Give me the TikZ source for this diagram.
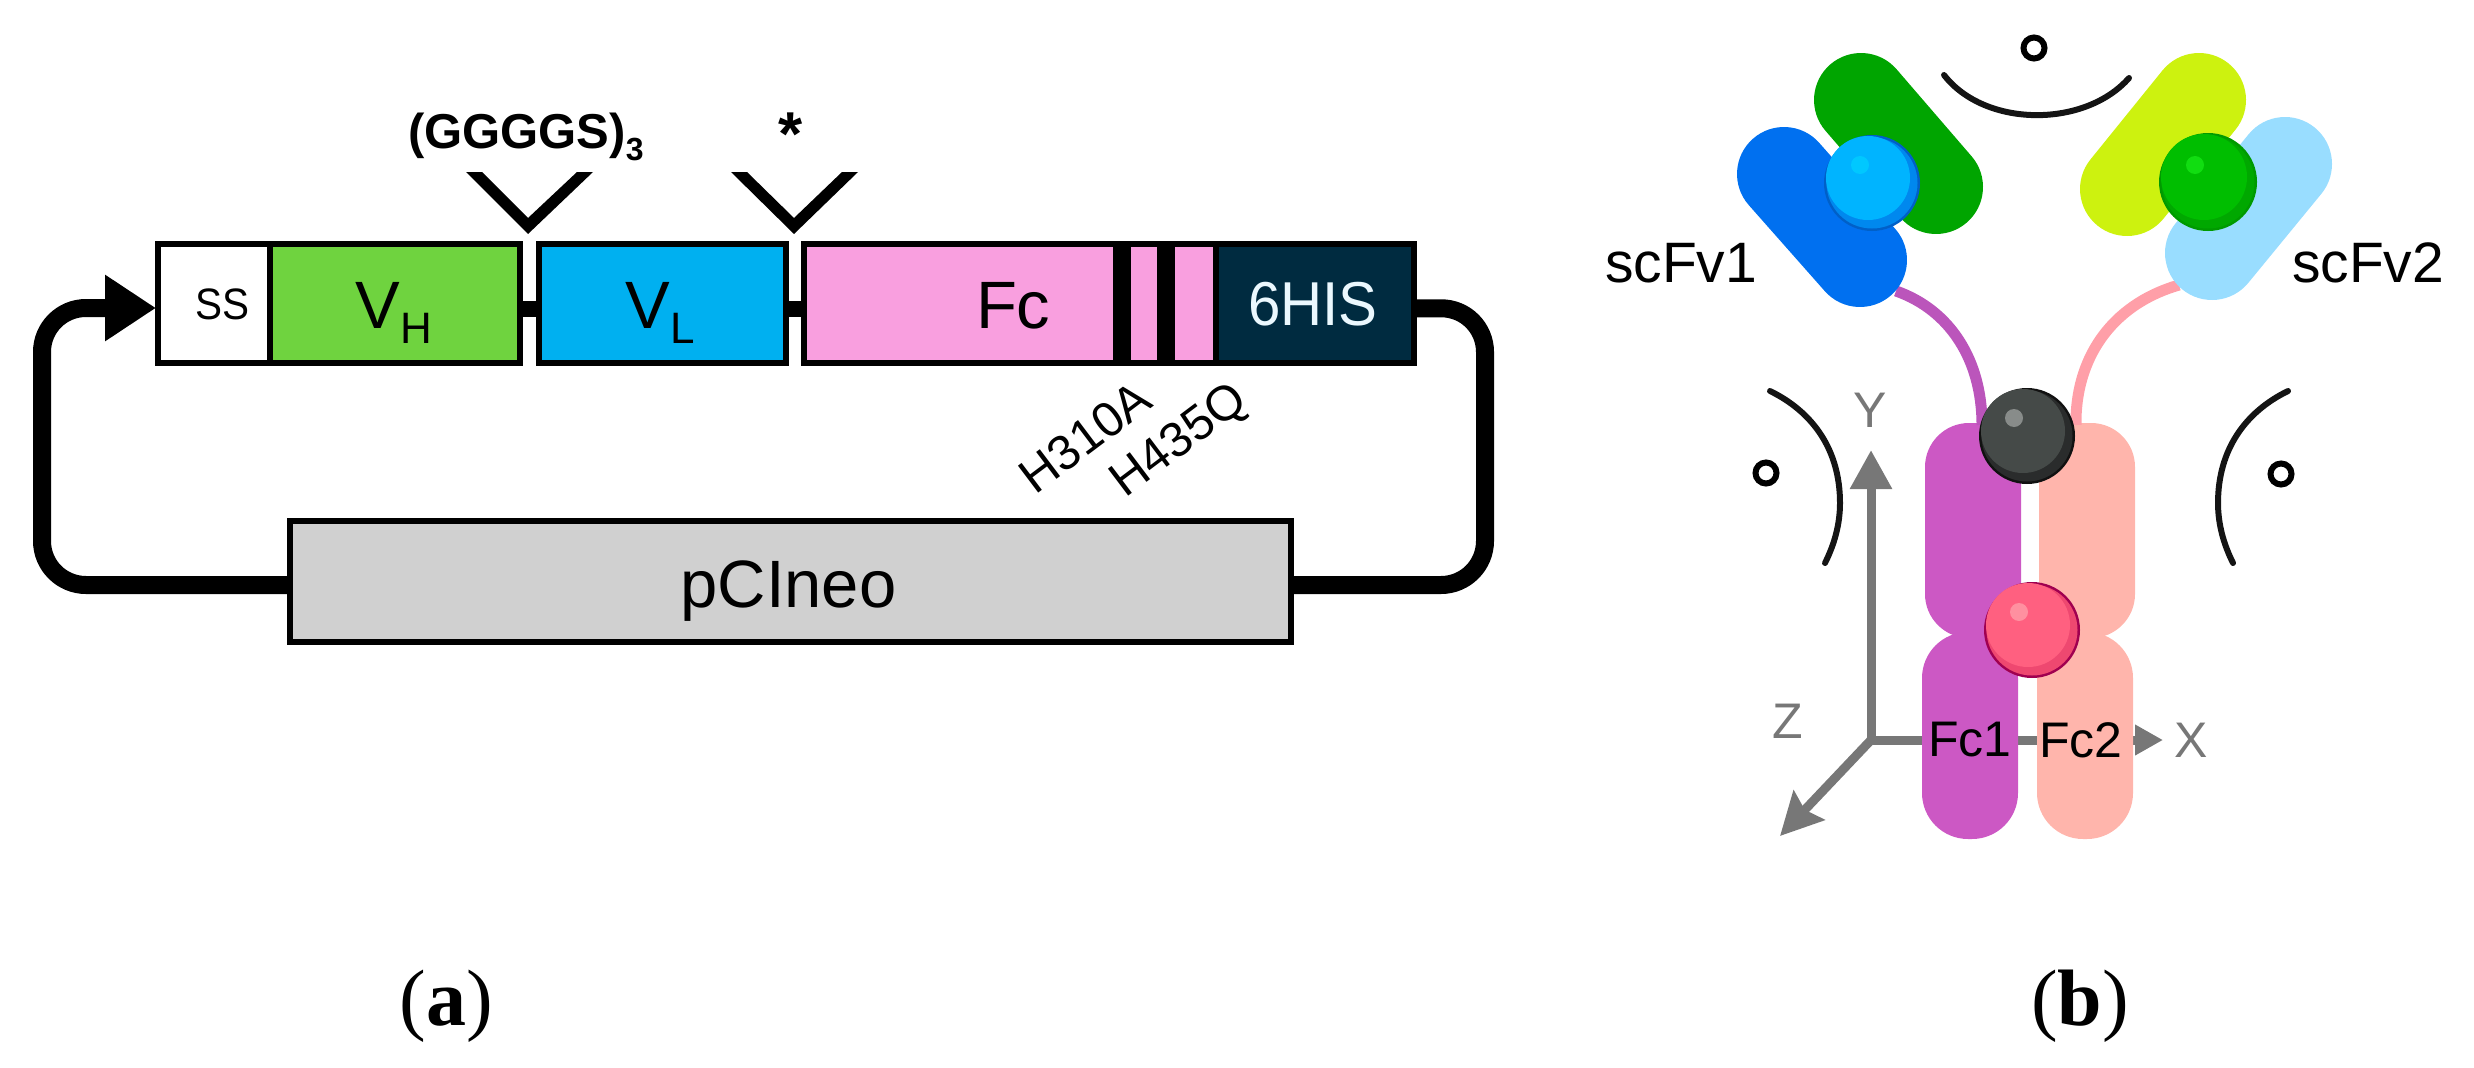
\documentclass[tikz,border=0pt]{standalone}
\usepackage{fontspec}
\setmainfont{Liberation Sans}
\newfontfamily\capfont{Liberation Serif}
\usetikzlibrary{arrows.meta,calc}
\definecolor{cVH}{HTML}{6FD33F}
\definecolor{cVL}{HTML}{00B0F0}
\definecolor{cFc}{HTML}{F99FDF}
\definecolor{cHis}{HTML}{002B40}
\definecolor{cPci}{HTML}{D0D0D0}
\definecolor{cAxis}{HTML}{777777}
\definecolor{cPurple}{HTML}{CC58C4}
\definecolor{cPink}{HTML}{FFB5AC}
\definecolor{cLinkP}{HTML}{BB55BB}
\definecolor{cLinkQ}{HTML}{FF9FA8}
\definecolor{cDGreen}{HTML}{00A500}
\definecolor{cBlue}{HTML}{0070F0}
\definecolor{cYellow}{HTML}{CDF20F}
\definecolor{cLBlue}{HTML}{99DDFF}
\definecolor{b1a}{HTML}{0060C8}\definecolor{b1b}{HTML}{0088EE}\definecolor{b1c}{HTML}{00B4FF}\definecolor{b1d}{HTML}{00C8FF}
\definecolor{b2a}{HTML}{009A00}\definecolor{b2b}{HTML}{00A800}\definecolor{b2c}{HTML}{00BE00}\definecolor{b2d}{HTML}{11DD11}
\definecolor{b3a}{HTML}{111111}\definecolor{b3b}{HTML}{2A2C2C}\definecolor{b3c}{HTML}{454A48}\definecolor{b3d}{HTML}{888C8A}
\definecolor{b4a}{HTML}{A00050}\definecolor{b4b}{HTML}{EE4870}\definecolor{b4c}{HTML}{FF6080}\definecolor{b4d}{HTML}{FF90A0}
\newcommand{\fsz}[1]{\fontsize{#1pt}{#1pt}\selectfont}
\newcommand{\drawball}[9]{%
  \fill[#4] (#1,#2) circle [radius=#3];
  \fill[#5] (#1,#2) circle [radius=#3-2.5];
  \fill[#6] (#1-4,#2-5) circle [radius=#3-6];
  \fill[#7] (#8,#9) circle [radius=9];
}
\tikzset{
  box/.style={rectangle,draw=black,line width=6pt,inner sep=0pt,outer sep=0pt,minimum height=119pt},
  txt/.style={inner sep=0pt,outer sep=0pt,anchor=base},
  capsule/.style={line width=94pt,line cap=round},
  fcbar/.style={rounded corners=44pt},
  loopline/.style={line width=18pt,draw=black,rounded corners=44pt},
  linker/.style={line width=16pt,draw=black},
  axis/.style={line width=9pt,draw=cAxis},
  axlabel/.style={inner sep=0pt,outer sep=0pt,text=cAxis,font=\fsz{50}},
  swing/.style={line width=6pt,draw=black!92,line cap=round},
  degree/.style={line width=6pt,draw=black},
  link/.style={line width=11pt},
  panel/.style={inner sep=0pt,outer sep=0pt,font=\capfont\fsz{80}},
}
\begin{document}
\begin{tikzpicture}[x=1pt,y=-1pt]
\useasboundingbox (0,0) rectangle (2474,1068);
% --- panel a
\coordinate (inTip) at (156,308);
\coordinate (leftTop) at (42,308);
\coordinate (leftBot) at (42,585);
\coordinate (rightTop) at (1485,308);
\coordinate (rightBot) at (1485,585);
\node[box,fill=white,minimum width=112pt] (SS) at (214,303.5) {};
\node[box,fill=cVH,minimum width=250pt] (VH) at (395,303.5) {};
\node[box,fill=cVL,minimum width=247pt] (VL) at (662.5,303.5) {};
\node[box,fill=cFc,minimum width=412pt] (Fc) at (1010,303.5) {};
\node[box,fill=cHis,minimum width=198pt] (His) at (1315,303.5) {};
\node[box,fill=cPci,minimum width=1001pt,minimum height=121pt] (pci) at (790.5,581.5) {};
\fill[black] (1113,241) rectangle (1131,366);
\fill[black] (1157,241) rectangle (1175,366);
\draw[linker] ($(VH.east)+(0,5)$) -- ($(VL.west)+(0,5)$);
\draw[linker] ($(VL.east)+(0,5)$) -- ($(Fc.west)+(0,5)$);
\draw[loopline,-{Triangle[length=51pt,width=63pt]}] (pci.west |- leftBot) -- (leftBot) -- (leftTop) -- (inTip);
\draw[loopline] ($(His.east)+(0,5)$) -- (rightTop) -- (rightBot) -- (pci.east |- rightBot);
\node[txt,xscale=.92] (sst) at (222,319) {\fsz{44}SS};
\node[txt] (vht) at (394,328) {\fsz{67}V\raisebox{-15pt}{\fsz{44}H}};
\node[txt] (vlt) at (660,328) {\fsz{67}V\raisebox{-15pt}{\fsz{44}L}};
\node[txt,anchor=base west] (fct) at (976,328) {\fsz{67}Fc};
\node[txt,xscale=.94,text=white!92!cyan] (hist) at (1313,325) {\fsz{62}6HIS};
\node[txt] (pcit) at (788.5,607) {\fsz{67}pCIneo};
\node[txt,anchor=base west] (gly) at (408,148) {\fsz{49}\bfseries (GGGGS)\raisebox{-12pt}{\fsz{32}3}};
\node[inner sep=0pt] (star) at (791,134) {\fsz{62}\bfseries *};
\fill[black] (466,172) -- (482,172) -- (528,218) -- (577,172) -- (593,172) -- (528,234) -- cycle;
\fill[black] (731,172) -- (747,172) -- (794,218) -- (842,172) -- (858,172) -- (794,234) -- cycle;
\node[rotate=37,inner sep=0pt,font=\fsz{49}] (h310) at (1085,437) {H310A};
\node[rotate=37,inner sep=0pt,font=\fsz{49}] (h435) at (1180,442) {H435Q};
\node[panel] (pa) at (446,1006) {(\textbf{a})};
% --- panel b axes
\coordinate (O) at (1871,740);
\coordinate (Yt) at (1871,450);
\coordinate (Xt) at (2163,740);
\coordinate (Zt) at (1780,836);
\draw[axis,-{Triangle[length=39pt,width=40pt]}] (O) -- (Yt);
\draw[axis,-{Triangle[length=28pt,width=29pt]}] (O) -- (Xt);
\draw[axis,-{Stealth[length=42pt,width=42pt,inset=6pt]}] (O) -- (Zt);
\node[axlabel] (Yl) at (1870,410) {Y};
\node[axlabel] (Xl) at (2191,740) {X};
\node[axlabel] (Zl) at (1788,721) {Z};
% Fc chains
\fill[cPurple,fcbar] (1925,423) rectangle (2021,638);
\fill[cPink,fcbar] (2039,423) rectangle (2135,638);
\fill[cPurple,rounded corners=46pt] (1922,632) rectangle (2018,839);
\fill[cPink,rounded corners=46pt] (2037,632) rectangle (2133,839);
% hinge links
\draw[link,cLinkP] (1896,291) .. controls (1950,310) and (1982,360) .. (1982,425);
\draw[link,cLinkQ] (2179,285) .. controls (2110,305) and (2075,360) .. (2076,425);
% scFv capsules
\draw[capsule,cDGreen] (1861,100) -- (1936,187);
\draw[capsule,cBlue] (1784,174) -- (1860,260);
\draw[capsule,cLBlue] (2285,164) -- (2212,253);
\draw[capsule,cYellow] (2199,100) -- (2127,189);
% balls
\drawball{1872}{183}{48}{b1a}{b1b}{b1c}{b1d}{1860}{165}
\drawball{2208}{182}{49}{b2a}{b2b}{b2c}{b2d}{2195}{165}
\drawball{2027}{436}{48}{b3a}{b3b}{b3c}{b3d}{2014}{418}
\drawball{2032}{630}{48}{b4a}{b4b}{b4c}{b4d}{2019}{612}
% swings
\draw[swing] (1944,75) .. controls (1985,128) and (2085,128) .. (2129,78);
\draw[swing] (1770,391) .. controls (1813,412) and (1840,450) .. (1840,503) .. controls (1840,525) and (1834,545) .. (1825,563);
\draw[swing] (2288,391) .. controls (2245,412) and (2218,450) .. (2218,503) .. controls (2218,525) and (2224,545) .. (2233,563);
\draw[degree] (2034,48) circle [radius=10.5];
\draw[degree] (1766,473) circle [radius=10.5];
\draw[degree] (2281,474) circle [radius=10.5];
% labels
\node[txt,anchor=base west] (sc1) at (1605,282) {\fsz{57}scFv1};
\node[txt,anchor=base west] (sc2) at (2292,282) {\fsz{57}scFv2};
\node[inner sep=0pt] (fc1) at (1970,740) {\fsz{50}Fc1};
\node[inner sep=0pt] (fc2) at (2081,740) {\fsz{50}Fc2};
\node[panel] (pb) at (2080,1006) {(\textbf{b})};
\end{tikzpicture}
\end{document}
